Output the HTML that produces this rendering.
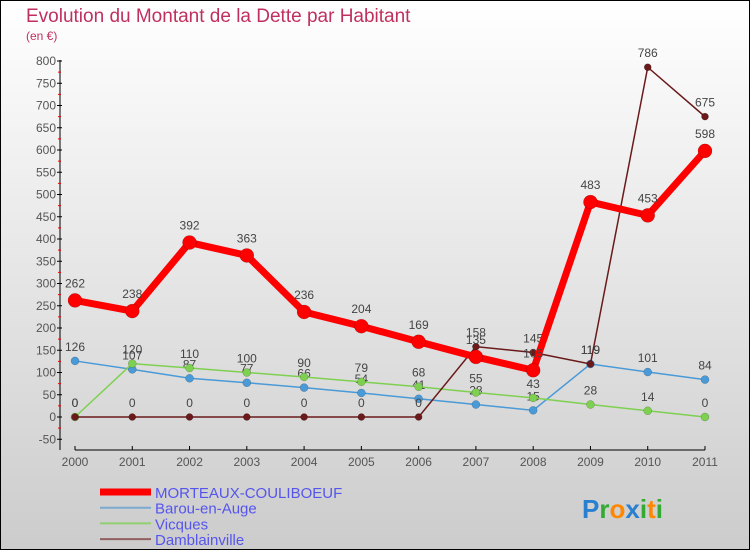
<!DOCTYPE html>
<html><head><meta charset="utf-8"><style>
body{margin:0}
#c{width:750px;height:550px;box-sizing:border-box;border:1px solid #000;background:linear-gradient(#fff,#ccc);position:relative;overflow:hidden;font-family:"Liberation Sans",sans-serif}
</style></head><body>
<div id="c">
<svg width="748" height="548" viewBox="1 1 748 548" id="s"></svg>
</div>
<script>
const years=["2000","2001","2002","2003","2004","2005","2006","2007","2008","2009","2010","2011"];
const morteaux=[262,238,392,363,236,204,169,135,105,483,453,598];
const barou=[126,107,87,77,66,54,41,28,15,119,101,84];
const vicques=[0,120,110,100,90,79,68,55,43,28,14,0];
const damb=[0,0,0,0,0,0,0,158,145,119,786,675];
const yTicks=[-50,0,50,100,150,200,250,300,350,400,450,500,550,600,650,700,750,800];
const NS="http://www.w3.org/2000/svg";
const s=document.getElementById('s');
const X=i=>75+i*(630/11);
const Y=v=>417-v*0.445;
function el(t,a,txt){const e=document.createElementNS(NS,t);for(const k in a)e.setAttribute(k,a[k]);if(txt!==undefined)e.textContent=txt;s.appendChild(e);return e;}
let e;
e=el('text',{x:26,y:22,'font-size':19,fill:'#c0305f'},'Evolution du Montant de la Dette par Habitant');


e=el('text',{x:26,y:40,'font-size':12,fill:'#c0305f'},'(en €)');


e=el('line',{x1:60,y1:60,x2:60,y2:450,stroke:'#000'});


e=el('line',{x1:75,y1:450,x2:705,y2:450,stroke:'#000'});


yTicks.forEach(v=>{
 el('line',{x1:57,y1:Y(v),x2:62,y2:Y(v),stroke:'#000'});
 if(v<800){el('line',{x1:58,y1:Y(v+25),x2:61,y2:Y(v+25),stroke:'#e00'});}
 e=el('text',{x:56,y:Y(v)+4,'font-size':12,fill:'#555','text-anchor':'end'},String(v));
 
 
});
years.forEach((y,i)=>{
 el('line',{x1:X(i),y1:446,x2:X(i),y2:450,stroke:'#000'});
 e=el('text',{x:X(i),y:466,'font-size':12,fill:'#555','text-anchor':'middle'},y);
 
 
});
function series(data,color,w,r,name,labelDy){
 e=el('polyline',{points:data.map((v,i)=>X(i)+','+Y(v)).join(' '),fill:'none',stroke:color,'stroke-width':w});
 
 
 data.forEach((v,i)=>{
  e=el('circle',{cx:X(i),cy:Y(v),r:r,fill:color,stroke:'rgba(0,0,0,0.3)','stroke-width':0.5});
  
  
  e=el('text',{x:X(i),y:Y(v)-labelDy,'font-size':12,fill:'#444','text-anchor':'middle'},String(v));
  
  
 });
}
series(barou,'#4a9ad8',1.5,4,'barou',10);
series(vicques,'#7ed050',1.5,4,'vicques',10);
series(damb,'#6a1a1a',1.5,3.5,'damblainville',10);
series(morteaux,'#f00',7,7,'morteaux',13);
const leg=[['MORTEAUX-COULIBOEUF','#f00',7],['Barou-en-Auge','#7aaad0',2],['Vicques','#90d070',2],['Damblainville','#906060',2]];
leg.forEach((l,i)=>{
 const y=492+i*15.7;
 e=el('line',{x1:100,y1:y,x2:151,y2:y,stroke:l[1],'stroke-width':l[2]});
 
 
 e=el('text',{x:155,y:y+6,'font-size':15,fill:'#55e'},l[0]);
 
 
});
e=el('text',{x:582,y:518,'font-size':26,'font-weight':'bold'});


[['P','#2a80d0'],['r','#3a3'],['o','#f80'],['x','#2a80d0'],['i','#3a3'],['t','#f80'],['i','#3a3']].forEach(p=>{const t=document.createElementNS(NS,'tspan');t.setAttribute('fill',p[1]);t.textContent=p[0];e.appendChild(t);});
</script>
</body></html>
